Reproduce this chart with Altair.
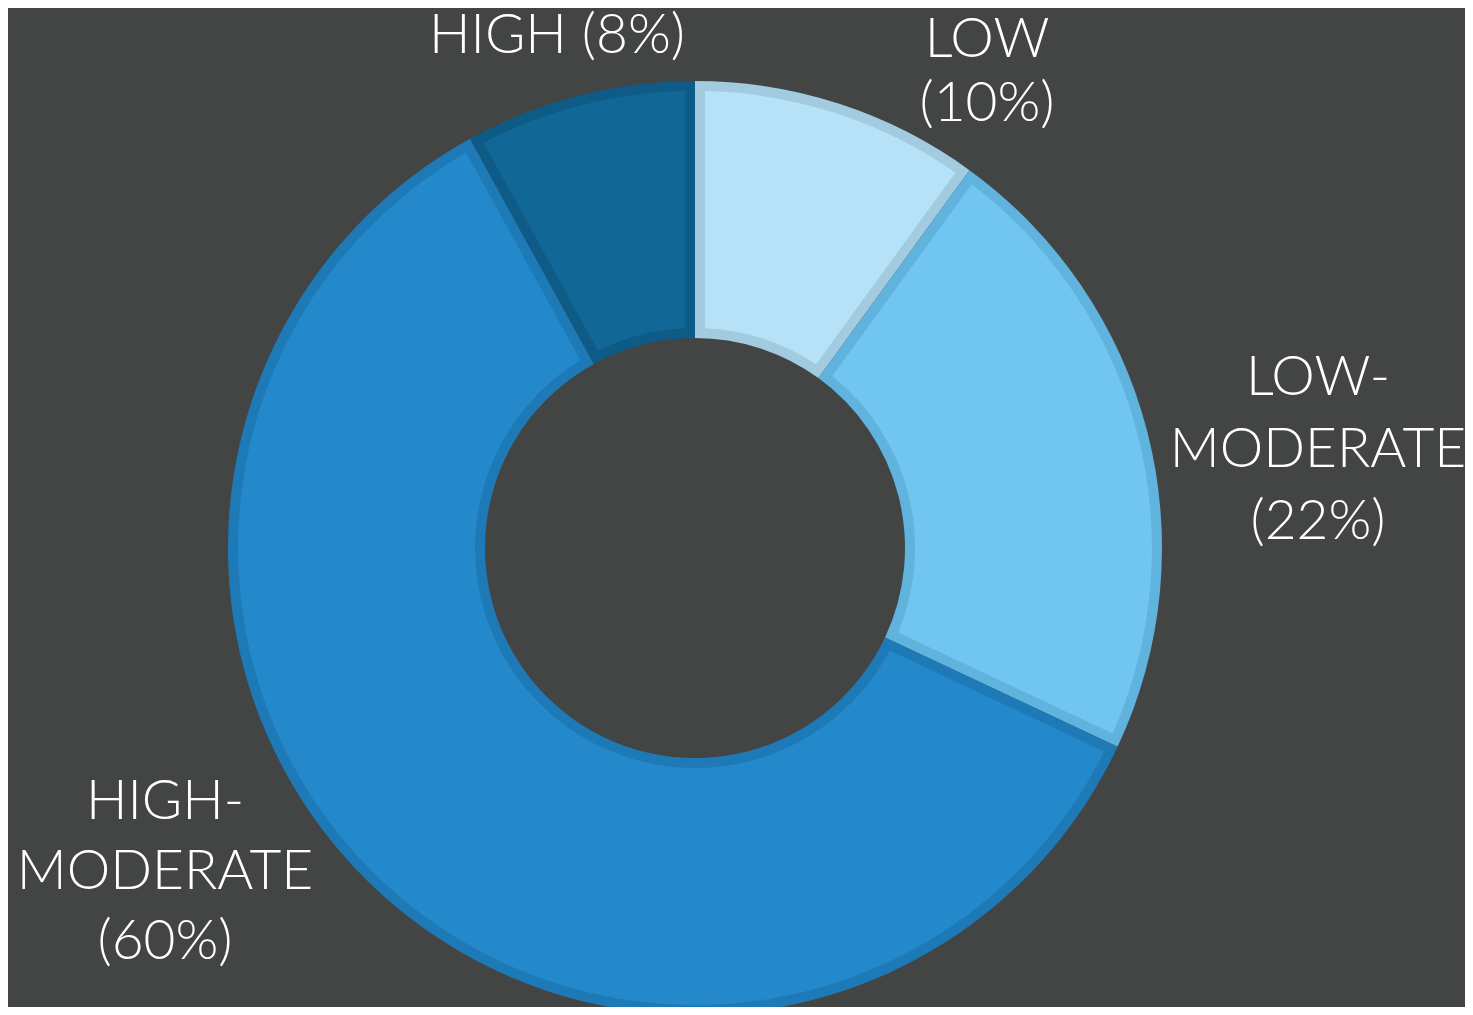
import altair as alt
import pandas as pd

categories = ["LOW", "LOW-MODERATE", "HIGH-MODERATE", "HIGH"]
shares = [10, 22, 60, 8]
order = [1, 2, 3, 4]
fill_colors = ["#b5e2f7", "#70c6f0", "#2389cb", "#116897"]
border_colors = ["#a2cbe0", "#5fb3dc", "#1e7ab7", "#0f5b87"]
label_texts = [["LOW", "(10%)"], ["LOW-", "MODERATE", "(22%)"], ["HIGH-", "MODERATE", "(60%)"], ["HIGH (8%)"]]

df = pd.DataFrame({"category": categories, "share": shares, "order": order})

W, H = 1457, 999
CX, CY = 687, 540
R_OUT, R_IN = 467, 210
BORDER = 10

base = alt.Chart(df).encode(
    theta=alt.Theta("share:Q", stack=True),
    order=alt.Order("order:Q", sort="ascending"),
    x=alt.value(CX),
    y=alt.value(CY),
)

border_arcs = base.mark_arc(radius=R_OUT, radius2=R_IN).encode(
    color=alt.Color("category:N", scale=alt.Scale(domain=categories, range=border_colors), legend=None)
)

pad_r = ((R_OUT - BORDER) ** 2 + (R_IN + BORDER) ** 2) ** 0.5
fill_arcs = base.mark_arc(
    radius=R_OUT - BORDER, radius2=R_IN + BORDER, padAngle=2 * BORDER / pad_r
).encode(
    color=alt.Color("category:N", scale=alt.Scale(domain=categories, range=fill_colors), legend=None)
)

# label placement (annotation positions)
label_pos = {
    "LOW": (979, 49, 64),
    "LOW-MODERATE": (1310, 387, 72),
    "HIGH-MODERATE": (157, 811, 70),
    "HIGH": (549, 45, 60),
}

text_layers = []
for cat, lines in zip(categories, label_texts):
    lx, ly, lh = label_pos[cat]
    t = alt.Chart(pd.DataFrame({"label": [lines]})).mark_text(
        font="Lato", fontSize=55, fontWeight=300, color="#ffffff", align="center",
        baseline="alphabetic", lineHeight=lh,
    ).encode(text="label:N", x=alt.value(lx), y=alt.value(ly))
    text_layers.append(t)

chart = alt.layer(border_arcs, fill_arcs, *text_layers).resolve_scale(
    color="independent"
).properties(
    width=W, height=H, padding=0, autosize="none", background="#434544"
).configure_view(stroke=None)

chart.save("out.html", embed_options={"renderer": "svg", "actions": False})
